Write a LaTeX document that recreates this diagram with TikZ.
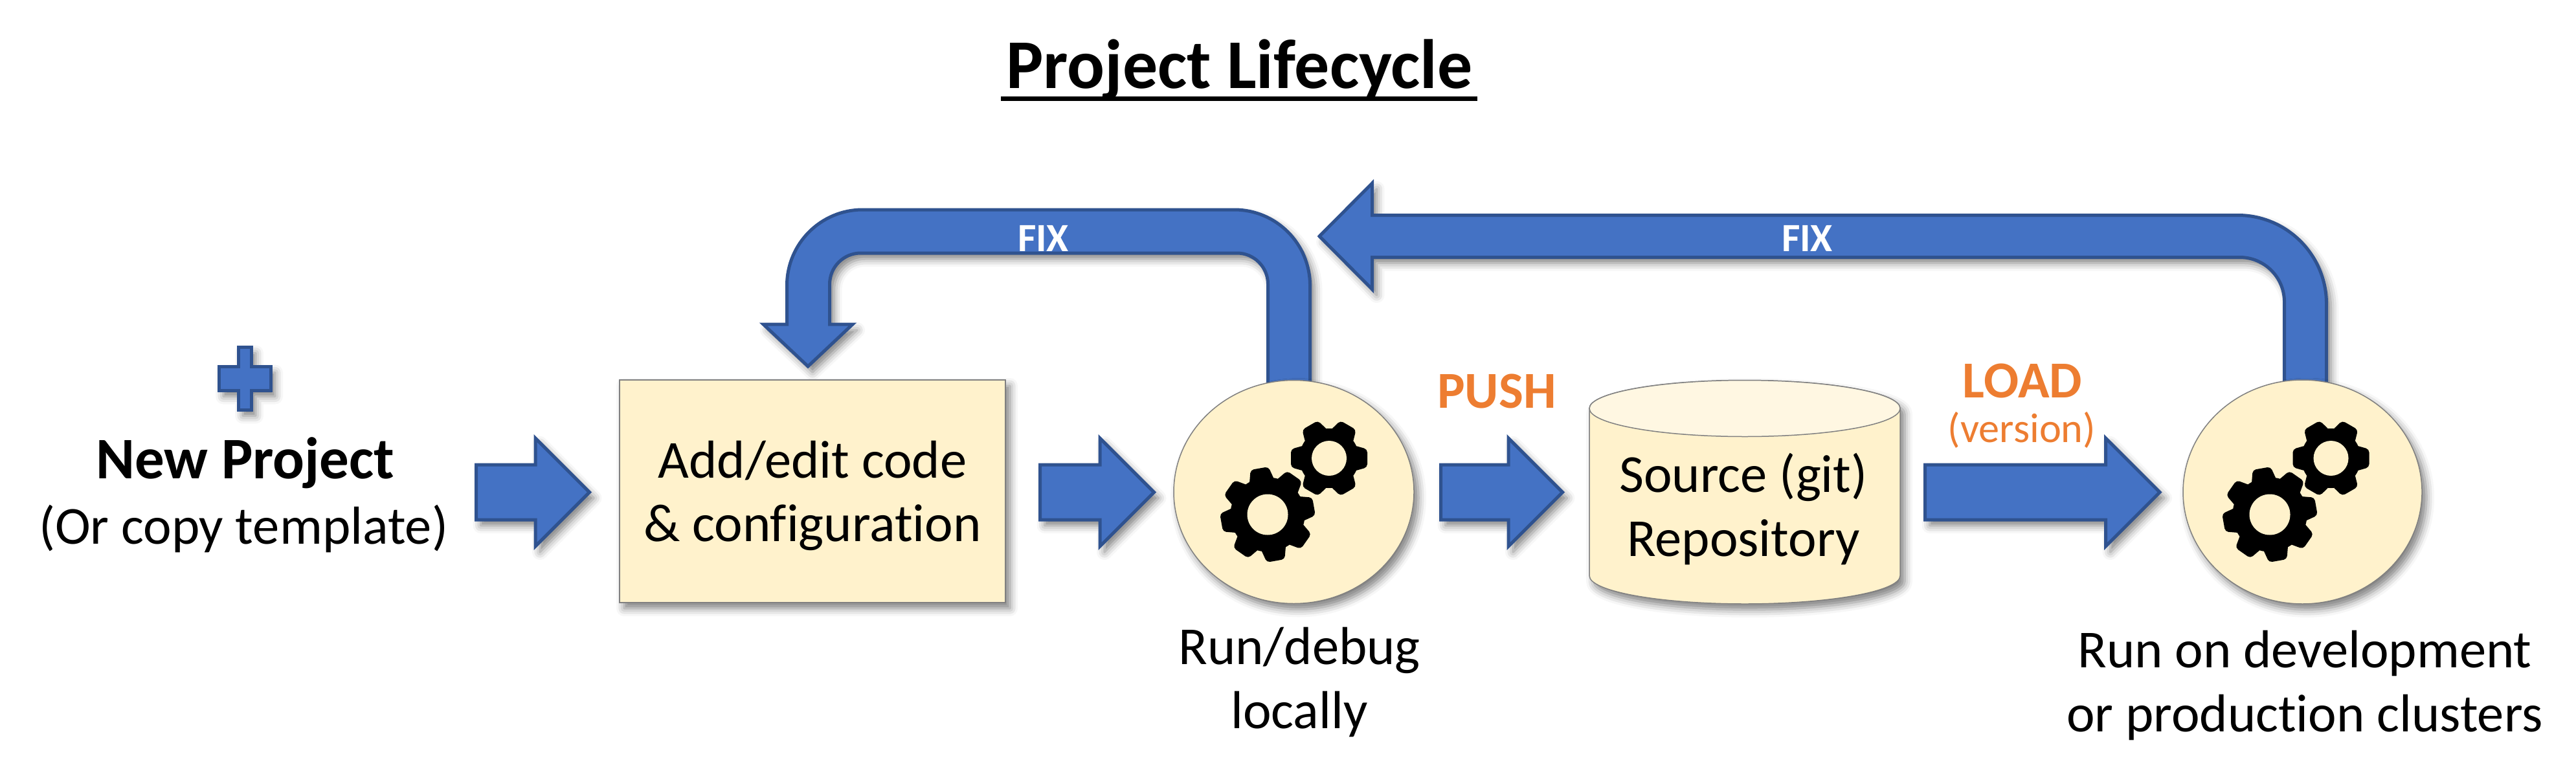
\documentclass[tikz,border=0pt]{standalone}
\usepackage{fontspec}
\setmainfont[Ligatures=NoCommon]{Carlito}
\usetikzlibrary{calc,shapes.geometric,shapes.arrows,shadows.blur}

\definecolor{cream}{HTML}{FFF2CC}
\definecolor{creamtop}{HTML}{FFF7E2}
\definecolor{barblue}{HTML}{4472C4}
\definecolor{bardark}{HTML}{2F528F}
\definecolor{pushorange}{HTML}{ED7D31}

% center, tip radius, root radius, hole radius, tooth angles
\newcommand{\gearicon}[5]{
  \begin{scope}[shift={#1}]
    \fill [black] (0,0) circle [radius=#3];
    \foreach \a in {#5} {
      \fill [black, rotate=\a, rounded corners=0.05cm] (#3-0.08cm,-0.2cm) -- (#2,-0.14cm) -- (#2,0.14cm) -- (#3-0.08cm,0.2cm) -- cycle;
    }
    \fill [cream] (0,0) circle [radius=#4];
  \end{scope}
}

\begin{document}
\begin{tikzpicture}[
  soft shadow/.style={
      blur shadow={shadow xshift=0.07cm, shadow yshift=-0.09cm, shadow blur radius=0.12cm, shadow opacity=50}
    },
  bar/.style={
      fill=barblue,
      draw=bardark,
      line width=0.05cm,
      soft shadow
    },
  block arrow/.style={
      bar,
      single arrow,
      single arrow head extend=0.41cm,
      single arrow tip angle=90,
      inner xsep=0pt,
      inner ysep=0.4cm,
      outer sep=0pt,
      anchor=tail
    },
  holder/.style={
      fill=cream,
      draw=gray,
      line width=0.015cm,
      inner sep=0pt,
      outer sep=0pt,
      soft shadow
    },
  words/.style={
      anchor=base,
      inner sep=0pt,
      align=center,
      font=\fontsize{23.5}{28}\selectfont
    },
  shout/.style={
      anchor=base,
      inner sep=0pt,
      font=\fontsize{22.8}{27.9}\selectfont\bfseries,
      text=pushorange
    },
  fix text/.style={
      anchor=base,
      inner sep=0pt,
      font=\fontsize{17.6}{20}\selectfont\bfseries,
      text=white
    }]

  \useasboundingbox (0,-12.01) rectangle (39.79,0);

  \coordinate (run_local_c) at (19.985,-7.60);
  \coordinate (run_clusters_c) at (35.565,-7.60);
  \coordinate (repo_c) at (26.95,-7.60);
  \coordinate (fix_local) at (12.48,-5.66);
  \coordinate (fix_clusters) at (20.38,-3.65);

  % title
  \node [anchor=base, inner sep=0pt, font=\fontsize{30.7}{36}\selectfont\bfseries] (title) at (19.145,-1.37) {Project Lifecycle};
  \draw [line width=0.07cm] ($(title.base west) + (-0.07,-0.155)$) -- ($(title.base east) + (0.06,-0.155)$);

  % feedback bars go first, the holders sit on top of them
  \filldraw [bar] (fix_local) -- ($(fix_local) + (-0.69,0.65)$) -- ($(fix_local) + (-0.325,0.65)$) -- ($(fix_local) + (-0.325,1.25)$)
    arc [start angle=180, end angle=90, radius=1.17] -- ($(fix_local) + (6.585,2.42)$)
    arc [start angle=90, end angle=0, radius=1.17] -- ($(fix_local) + (7.755,-1.34)$) -- ($(fix_local) + (7.105,-1.34)$) -- ($(fix_local) + (7.105,1.27)$)
    arc [start angle=0, end angle=90, radius=0.48] -- ($(fix_local) + (0.815,1.75)$)
    arc [start angle=90, end angle=180, radius=0.48] -- ($(fix_local) + (0.335,0.65)$) -- ($(fix_local) + (0.69,0.65)$) -- cycle;

  \filldraw [bar] (fix_clusters) -- ($(fix_clusters) + (0.815,0.82)$) -- ($(fix_clusters) + (0.815,0.325)$) -- ($(fix_clusters) + (14.185,0.325)$)
    arc [start angle=90, end angle=0, radius=1.37] -- ($(fix_clusters) + (15.555,-3.35)$) -- ($(fix_clusters) + (14.905,-3.35)$) -- ($(fix_clusters) + (14.905,-1.015)$)
    arc [start angle=0, end angle=90, radius=0.69] -- ($(fix_clusters) + (0.815,-0.325)$) -- ($(fix_clusters) + (0.815,-0.82)$) -- cycle;

  \node [fix text] (fix_a) at (16.115,-3.88) {FIX};
  \node [fix text] (fix_b) at (27.915,-3.88) {FIX};

  % plus sign
  \filldraw [bar] (3.78,-5.85) ++(-0.10,0.485) -- ++(0.2,0) -- ++(0,-0.30) -- ++(0.30,0) -- ++(0,-0.37) -- ++(-0.30,0) -- ++(0,-0.30) -- ++(-0.2,0) -- ++(0,0.30) -- ++(-0.30,0) -- ++(0,0.37) -- ++(0.30,0) -- cycle;

  \node [anchor=base, inner sep=0pt, font=\fontsize{25.9}{30}\selectfont\bfseries] (new_project) at (3.79,-7.39) {New Project};
  \node [words] (new_sub) at (3.76,-8.40) {(Or copy template)};

  % holders
  \node [holder, rectangle, minimum width=5.96cm, minimum height=3.44cm] (code_box) at (12.55,-7.59) {};
  \node [holder, ellipse, minimum width=3.71cm, minimum height=3.45cm] (run_local) at (run_local_c) {};
  \node [holder, ellipse, minimum width=3.69cm, minimum height=3.46cm] (run_clusters) at (run_clusters_c) {};

  \filldraw [holder] ($(repo_c) + (-2.4,1.29)$) -- ($(repo_c) + (-2.4,-1.295)$)
    arc [start angle=180, end angle=360, x radius=2.4, y radius=0.435] -- ($(repo_c) + (2.4,1.29)$)
    arc [start angle=0, end angle=180, x radius=2.4, y radius=0.435] -- cycle;
  \filldraw [fill=creamtop, draw=gray, line width=0.015cm] ($(repo_c) + (0,1.29)$) ellipse [x radius=2.4, y radius=0.435];

  \node [words] (code_text) at (12.55,-8.365) {Add/edit code\\\& configuration};
  \node [words] (repo_text) at (26.93,-8.59) {Source (git)\\Repository};

  \gearicon{($(run_local) + (-0.405,-0.35)$)}{0.725cm}{0.575cm}{0.315cm}{10,55,100,145,190,235,280,325}
  \gearicon{($(run_local) + (0.545,0.52)$)}{0.59cm}{0.46cm}{0.27cm}{0,60,120,180,240,300}
  \gearicon{($(run_clusters) + (-0.505,-0.35)$)}{0.725cm}{0.575cm}{0.315cm}{10,55,100,145,190,235,280,325}
  \gearicon{($(run_clusters) + (0.44,0.52)$)}{0.59cm}{0.46cm}{0.27cm}{0,60,120,180,240,300}

  % straight arrows
  \node [block arrow, minimum height=1.75cm] (new_arrow) at (7.355,-7.605) {};
  \node [block arrow, minimum height=1.76cm] (code_arrow) at (16.065,-7.605) {};
  \node [block arrow, minimum height=1.88cm] (push_arrow) at (22.255,-7.605) {};
  \node [block arrow, minimum height=3.625cm] (load_arrow) at (29.735,-7.605) {};

  \node [shout] (push_text) at (23.12,-6.30) {PUSH};
  \node [shout] (load_text) at (31.24,-6.14) {LOAD};
  \node [anchor=base, inner sep=0pt, text=pushorange, font=\fontsize{18.3}{20}\selectfont] (version_text) at (31.23,-6.83) {(version)};

  \node [words] (run_local_text) at (20.07,-11.25) {Run/debug\\locally};
  \node [words] (run_clusters_text) at (35.60,-11.30) {Run on development\\or production clusters};
\end{tikzpicture}
\end{document}
